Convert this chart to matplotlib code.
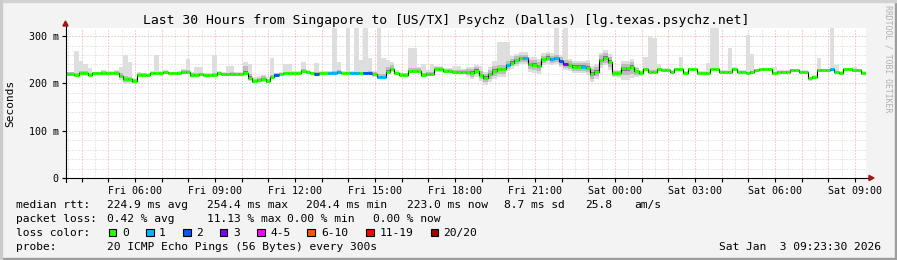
import datetime as dt
import numpy as np
import matplotlib
matplotlib.use("Agg")
import matplotlib.pyplot as plt
from matplotlib.patches import Rectangle, Polygon
from matplotlib.lines import Line2D

# ---------------- data ----------------
start_time = dt.datetime(2026, 1, 2, 3, 23, 30)
span_hours = 30
step_minutes = 10

median_ms = [
    220, 220, 218, 222, 222, 218, 221, 221, 222.5, 222.5, 222.5, 222.5, 216, 209, 209, 205, 218, 218, 218, 222,
    222, 222, 224, 221, 221, 221, 224.6, 224.6, 217, 218,
    219, 218, 218, 218, 222.5, 220, 219, 220.5, 220.5, 220.5, 222, 212, 205, 207, 210, 205, 214, 218, 220, 221,
    221, 221, 221, 226, 224, 221, 220, 222, 222, 222,
    222, 224.6, 222, 222, 222, 222, 222, 222, 222, 219, 214, 214, 225, 229.5, 221, 218, 218, 226.8, 226.8, 226.8,
    218, 219.7, 219.7, 229.5, 229.5, 227, 227, 224.6, 224.6, 224.6,
    224.6, 222.5, 227, 218, 212, 219, 226, 229.5, 229.5, 238.7, 244, 249, 252.8, 252.8, 240, 238.7, 236, 250.7, 254.4, 250.7,
    252.8, 247, 241, 238.7, 235, 235, 235, 233, 219.7, 224.6,
    249, 254, 245, 221, 221, 231.7, 231.7, 235, 226, 222.5, 229.5, 224.6, 224.6, 229.5, 228, 228, 224.6, 229.5, 229.5, 222,
    229.5, 229.5, 222, 222, 222, 229.5, 229.5, 224.6, 224.6, 224.6,
    229.5, 224.6, 224.6, 222, 224.6, 228, 229.5, 229.5, 229.5, 222, 224.6, 224.6, 224.6, 228, 228, 224.6, 224.6, 210.6, 214, 228,
    228, 228, 229.5, 224.6, 222.5, 229.5, 229.5, 228, 228, 222.5,
]

# lost pings (of 20) per sample: only non-zero samples listed
loss_idx = [47, 56, 59, 60, 61, 64, 65, 67, 68, 70, 71, 99, 103, 109, 110, 111, 112, 116, 172]
loss_cnt = [2, 2, 1, 1, 1, 1, 1, 2, 2, 1, 1, 1, 1, 1, 1, 2, 3, 1, 1]

smoke_up = [
    3, 3, 4, 4, 4, 3, 2, 2, 3, 2, 2, 3, 5, 6, 5, 4, 4, 3, 2, 2, 3, 2, 2, 2, 2, 3, 3, 4, 4, 3,
    3, 2, 2, 3, 2, 2, 3, 3, 2, 2, 14, 8, 5, 5, 5, 5, 4, 3, 2, 2, 2, 3, 3, 4, 2, 2, 3, 2, 2, 2,
    4, 3, 3, 3, 3, 3, 3, 3, 4, 4, 5, 5, 10, 10, 4, 3, 3, 5, 6, 5, 4, 5, 4, 5, 5, 4, 3, 3, 3, 3,
    6, 8, 8, 8, 8, 10, 10, 10, 10, 8, 8, 8, 8, 8, 10, 10, 10, 8, 8, 8, 8, 8, 8, 8, 8, 8, 8, 10, 10, 10,
    10, 10, 10, 5, 5, 10, 10, 10, 6, 4, 3, 3, 3, 3, 3, 3, 2, 2, 2, 2, 2, 2, 2, 2, 2, 2, 2, 2, 2, 2,
    2, 2, 2, 2, 2, 2, 2, 2, 2, 2, 2, 2, 2, 2, 2, 2, 2, 2, 2, 2, 2, 2, 2, 2, 2, 2, 2, 2, 2, 2,
]
smoke_dn = [
    2, 2, 2, 2, 2, 2, 2, 2, 2, 2, 2, 2, 5, 7, 6, 4, 3, 2, 2, 2, 2, 2, 2, 2, 2, 2, 2, 2, 3, 2,
    2, 2, 2, 2, 2, 2, 2, 2, 2, 2, 3, 4, 4, 4, 4, 4, 3, 2, 2, 2, 2, 2, 2, 2, 2, 2, 2, 2, 2, 2,
    2, 2, 2, 2, 2, 2, 2, 2, 2, 3, 3, 3, 3, 3, 2, 2, 2, 3, 3, 3, 3, 3, 3, 3, 3, 3, 3, 3, 3, 3,
    6, 8, 8, 8, 10, 10, 10, 10, 10, 8, 8, 8, 8, 8, 10, 10, 10, 8, 8, 8, 8, 8, 8, 8, 8, 8, 8, 10, 10, 10,
    10, 10, 10, 5, 6, 15, 15, 15, 8, 4, 2, 2, 2, 2, 2, 2, 2, 2, 2, 2, 2, 2, 2, 2, 2, 2, 2, 2, 2, 2,
    2, 2, 2, 2, 2, 2, 2, 2, 2, 2, 2, 2, 2, 2, 2, 2, 2, 3, 3, 2, 2, 2, 2, 2, 2, 2, 2, 2, 2, 2,
]

# outlier pings (max rtt) per sample
spike_idx = [2, 3, 4, 5, 8, 12, 13, 14, 20, 27, 29, 30, 33, 36, 37, 40, 41, 46, 49, 50, 53, 56,
             60, 61, 63, 65, 66, 67, 68, 70, 71, 72, 73, 77, 78, 80, 82, 87, 88, 92, 93, 96, 97, 98, 99,
             110, 111, 112, 130, 131, 132, 133, 138, 144, 145, 146, 149, 150, 153, 154, 159, 169, 172, 173, 177]
spike_top = [268, 247, 241, 233, 226, 235, 260, 246, 260, 251, 235, 235, 260, 237, 237, 246, 240, 254, 240, 240, 246, 242,
             330, 246, 330, 330, 250, 330, 253, 330, 253, 250, 246, 274, 274, 240, 240, 237, 237, 237, 237, 247, 288, 288, 288,
             330, 250, 330, 256, 298, 296, 240, 256, 242, 330, 330, 274, 235, 302, 263, 234, 253, 330, 239, 234]

y_ticks = [0, 100, 200, 300]
y_tick_labels = ["0", "100 m", "200 m", "300 m"]

loss_colors = ["#26ff00", "#00b8ff", "#0059ff", "#7e00ff", "#ff00ff", "#ff5500", "#ff0000", "#a10000"]
loss_names = ["0", "1", "2", "3", "4-5", "6-10", "11-19", "20/20"]

title = "Last 30 Hours from Singapore to [US/TX] Psychz (Dallas) [lg.texas.psychz.net]"
stat_rtt = ["median rtt:", "224.9 ms avg", "254.4 ms max", "204.4 ms min", "223.0 ms now", "8.7 ms sd", "25.8", "am/s"]
stat_loss = ["packet loss:", "0.42 % avg", "11.13 % max", "0.00 % min", "0.00 % now"]
probe_text = ["probe:", "20 ICMP Echo Pings (56 Bytes) every 300s"]
stamp_text = "Sat Jan  3 09:23:30 2026"

# ---------------- figure ----------------
W, H = 897, 260
MONO = "DejaVu Sans Mono"
plt.rcParams["font.family"] = [MONO]

fig = plt.figure(figsize=(W / 100, H / 100), dpi=100, facecolor="#f3f3f3")

def fx(x):
    return x / W

def fy(y):
    return 1 - y / H

# frame
fig.patches.append(Rectangle((0, 0), 1, 2 / H, transform=fig.transFigure, color="#9d9d9d", zorder=0))
fig.patches.append(Rectangle((1 - 2 / W, 0), 2 / W, 1, transform=fig.transFigure, color="#9d9d9d", zorder=0))
fig.patches.append(Rectangle((0, 1 - 2 / H), 1, 2 / H, transform=fig.transFigure, color="#d2d2d2", zorder=0))
fig.patches.append(Rectangle((0, 0), 2 / W, 1, transform=fig.transFigure, color="#cbcbcb", zorder=0))

L, R, T, B = 65.5, 865.5, 28.0, 178.0
ax = fig.add_axes([fx(L), fy(B), (R - L) / W, (B - T) / H])
ax.set_facecolor("white")
ax.set_xlim(0, span_hours)
ax.set_ylim(0, 317)
for s in ax.spines.values():
    s.set_visible(False)

# grid
first_full = (60 - start_time.minute - start_time.second / 60) / 60.0
half = first_full - 0.5 if first_full >= 0.5 else first_full + 0.5
dots = (0, (1, 2))
for h in np.arange(half, span_hours, 1.0):
    ax.axvline(h, color="#d4d4d4", lw=0.72, ls=dots, zorder=0)
for v in range(20, 317, 20):
    if v % 100:
        ax.axhline(v, color="#d4d4d4", lw=0.72, ls=dots, zorder=0)
for h in np.arange(first_full, span_hours, 1.0):
    ax.axvline(h, color="#f2a0a0", lw=0.72, ls=dots, zorder=0)
for v in (100, 200, 300):
    ax.axhline(v, color="#f2a0a0", lw=0.72, ls=dots, zorder=0)

# data arrays
n = len(median_ms)
med = np.array(median_ms, dtype=float)
t = np.arange(n) * step_minutes / 60.0
dt_h = step_minutes / 60.0
te = np.append(t, t[-1] + dt_h)
up = np.array(smoke_up, float)
dn = np.array(smoke_dn, float)
top = med + 1.6 * up
for i, v in zip(spike_idx, spike_top):
    top[i] = max(top[i], v)
loss = np.zeros(n, int)
for i, c in zip(loss_idx, loss_cnt):
    loss[i] = c

def ext(a):
    return np.append(a, a[-1])

ax.fill_between(te, ext(med - 1.6 * dn), ext(top), step="post", color="#dedede", lw=0, zorder=1)
ax.fill_between(te, ext(med - dn), ext(med + up), step="post", color="#bdbdbd", lw=0, zorder=1)
ax.fill_between(te, ext(med - 0.35 * dn), ext(med + 0.35 * up), step="post", color="#7a7a7a", lw=0, zorder=1)

ax.step(te, ext(med), where="post", color="black", lw=0.8, zorder=3)

def bucket(c):
    if c <= 3:
        return c
    if c <= 5:
        return 4
    if c <= 10:
        return 5
    if c <= 19:
        return 6
    return 7

cols = [loss_colors[bucket(c)] for c in loss]
lc = ax.hlines(med, t, t + dt_h, colors=cols, linewidth=2.2, zorder=4)
lc.set_capstyle("butt")

# ticks
label_pos = []
label_txt = []
h = first_full
while h <= span_hours:
    tm = start_time + dt.timedelta(hours=h)
    if tm.hour % 3 == 0:
        label_pos.append(h)
        label_txt.append(tm.strftime("%a %H:%M"))
    h += 1.0
ax.set_xticks(label_pos)
ax.set_xticklabels(label_txt)
ax.set_xticks(np.arange(first_full, span_hours, 1.0), minor=True)
ax.tick_params(axis="x", which="both", length=3, width=0.8, direction="out", pad=2.4, labelsize=7.2)
ax.set_yticks(y_ticks)
ax.set_yticklabels(y_tick_labels)
ax.tick_params(axis="y", length=3, width=0.8, direction="out", pad=2.0, labelsize=7.2)

# axis lines with arrows
fig.lines.append(Line2D([fx(L), fx(L)], [fy(181.5), fy(25)], transform=fig.transFigure, color="black", lw=0.8, zorder=6))
fig.lines.append(Line2D([fx(L - 3), fx(869)], [fy(B), fy(B)], transform=fig.transFigure, color="black", lw=0.8, zorder=6))
fig.patches.append(Polygon([(fx(L - 2.6), fy(26)), (fx(L + 2.6), fy(26)), (fx(L), fy(21))],
                           closed=True, transform=fig.transFigure, color="#a01515", zorder=7))
fig.patches.append(Polygon([(fx(869), fy(B - 2.6)), (fx(869), fy(B + 2.6)), (fx(874), fy(B))],
                           closed=True, transform=fig.transFigure, color="#a01515", zorder=7))

# title & labels
fig.text(fx(446.5), fy(24), title, ha="center", va="baseline", fontsize=9.45, color="black")
fig.text(fx(10), fy(103), "Seconds", rotation=90, ha="center", va="center", fontsize=8.0)
fig.text(fx(887.5), fy(5), "RRDTOOL / TOBI OETIKER", rotation=270, ha="center", va="top",
         fontsize=5.9, color="#b0b0b0")

FS = 8.1
rtt_x = [16, 107, 207, 307, 407, 504, 586, 635]
for s, x in zip(stat_rtt, rtt_x):
    fig.text(fx(x - 0.5), fy(208.3), s, ha="left", va="baseline", fontsize=FS)
loss_x = [16, 107, 207, 287, 373]
for s, x in zip(stat_loss, loss_x):
    fig.text(fx(x - 0.5), fy(222.2), s, ha="left", va="baseline", fontsize=FS)
fig.text(fx(15.5), fy(236), "loss color:", ha="left", va="baseline", fontsize=FS)
box_x = [108.5, 146, 183, 219.5, 257, 307, 366, 430.5]
lab_x = [123, 159.3, 196.7, 233.3, 270.7, 321.7, 380, 444]
for c, name, bx, lx in zip(loss_colors, loss_names, box_x, lab_x):
    fig.patches.append(Rectangle((fx(bx), fy(236)), 7.5 / W, 7.5 / H, transform=fig.transFigure,
                                 facecolor=c, edgecolor="black", lw=0.8, zorder=5))
    fig.text(fx(lx - 0.5), fy(236), name, ha="left", va="baseline", fontsize=FS)
fig.text(fx(15.5), fy(249.8), probe_text[0], ha="left", va="baseline", fontsize=FS)
fig.text(fx(106.5), fy(249.8), probe_text[1], ha="left", va="baseline", fontsize=FS)
fig.text(fx(880.5), fy(249.8), stamp_text, ha="right", va="baseline", fontsize=FS)

fig.savefig("out.png", dpi=100, facecolor=fig.get_facecolor())
